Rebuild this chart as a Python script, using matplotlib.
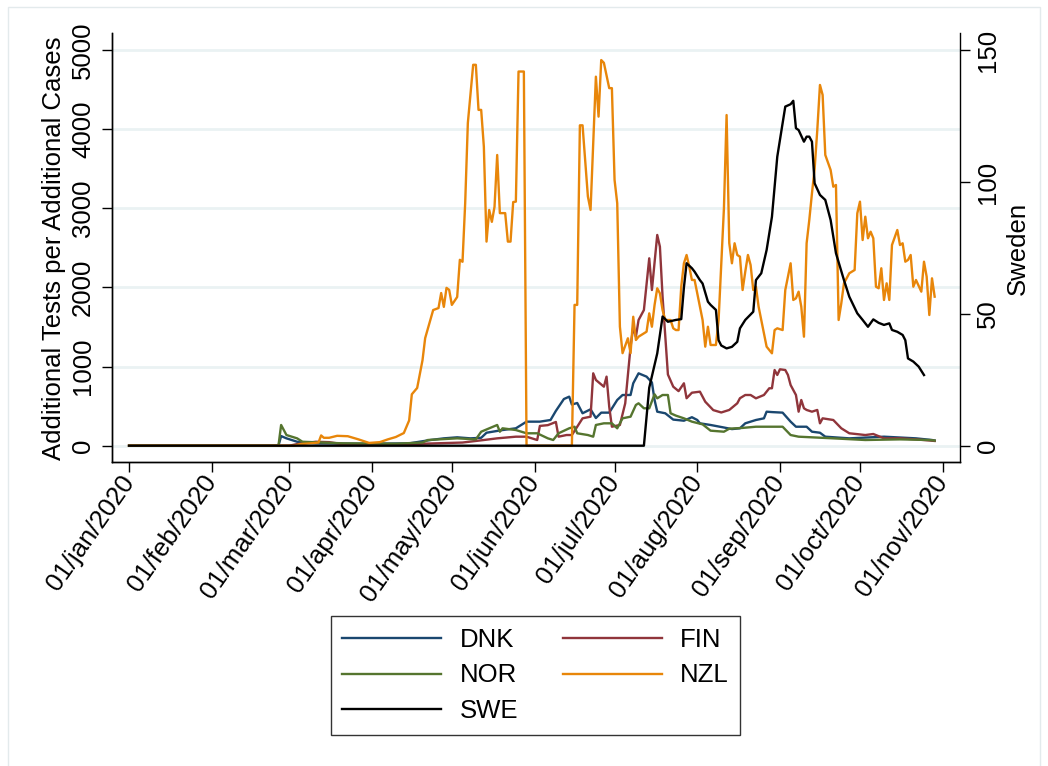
import numpy as np
import matplotlib
matplotlib.use("Agg")
import matplotlib.pyplot as plt
import matplotlib.dates as mdates
from matplotlib.lines import Line2D
from matplotlib.patches import Rectangle

plt.rcParams['font.family'] = ['Liberation Sans', 'DejaVu Sans']

# ---- data: days since 01/jan/2020 and values ----
dnk_days = [0, 56, 57, 59, 63, 70, 90, 105, 113, 118, 123, 128, 132, 134, 140, 145, 149, 154, 158, 160,
            163, 165, 166, 168, 170, 173, 175, 177, 180, 183, 185, 188, 189, 191, 194, 196, 197, 198, 201, 204,
            208, 211, 213, 214, 218, 223, 226, 229, 231, 235, 238, 239, 241, 245, 248, 250, 254, 256, 259, 261,
            270, 283, 295, 301, 302]
dnk_vals = [0, 0, 122, 93, 50, 30, 25, 30, 72, 93, 106, 93, 100, 164, 198, 220, 304, 304, 325, 440,
            590, 620, 520, 540, 410, 460, 350, 418, 418, 578, 641, 641, 789, 915, 873, 800, 578, 430, 410, 330,
            316, 360, 325, 283, 262, 230, 210, 220, 283, 325, 346, 430, 425, 418, 304, 240, 240, 177, 164, 114,
            93, 114, 93, 72, 65]

fin_days = [0, 60, 63, 70, 75, 80, 100, 110, 125, 133, 138, 145, 149, 153, 154, 157, 160, 161, 164, 166,
            168, 170, 173, 174, 175, 178, 179, 180, 181, 184, 186, 188, 189, 190, 191, 193, 195, 196, 198, 199,
            200, 202, 204, 206, 208, 209, 211, 214, 216, 219, 222, 225, 228, 229, 231, 233, 235, 238, 240, 241,
            242, 243, 244, 246, 247, 248, 250, 251, 252, 253, 254, 256, 258, 259, 260, 264, 267, 270, 276, 279,
            283, 289, 295, 301, 302]
fin_vals = [0, 0, 20, 50, 45, 20, 15, 25, 40, 72, 93, 114, 114, 72, 250, 260, 300, 114, 135, 135,
            240, 346, 367, 915, 831, 746, 873, 493, 240, 262, 536, 1252, 1500, 1378, 1589, 1715, 2369, 1968, 2664, 2516,
            1884, 900, 746, 690, 789, 600, 670, 683, 556, 450, 420, 452, 536, 600, 641, 641, 599, 641, 726, 726,
            957, 894, 966, 957, 894, 767, 641, 430, 578, 473, 452, 430, 452, 283, 346, 325, 220, 157, 135, 148,
            93, 93, 80, 63, 60]

nor_days = [0, 56, 57, 59, 63, 65, 80, 100, 110, 112, 123, 130, 132, 138, 139, 140, 145, 149, 153, 157,
            159, 161, 165, 167, 168, 172, 174, 175, 178, 181, 183, 185, 188, 190, 191, 193, 195, 197, 198, 200,
            202, 203, 205, 208, 211, 215, 218, 223, 225, 230, 235, 241, 245, 248, 251, 264, 276, 289, 300, 302]
nor_vals = [0, 0, 262, 135, 93, 50, 30, 25, 40, 72, 93, 80, 177, 262, 177, 220, 198, 157, 157, 93,
            72, 157, 220, 240, 157, 135, 114, 262, 283, 283, 220, 346, 367, 515, 536, 473, 473, 650, 599, 641,
            641, 410, 380, 346, 304, 270, 190, 177, 215, 225, 240, 240, 240, 135, 114, 93, 72, 80, 72, 65]

nzl_days = [0, 62, 64, 68, 71, 72, 73, 75, 78, 82,
            86, 90, 94, 97, 100, 103, 105, 106, 108, 110,
            111, 114, 116, 117, 118, 119, 120, 121, 123, 124,
            125, 126, 127, 129, 130, 131, 132, 133, 134, 135,
            136, 137, 138, 139, 141, 142, 143, 144, 145, 146,
            148, 149, 166, 167, 168, 169, 170, 172, 173, 175,
            176, 177, 178, 180, 181, 182, 183, 184, 185, 187,
            188, 189, 190, 191, 193, 194, 195, 196, 197, 198,
            199, 200, 201, 203, 204, 205, 206, 207, 208, 209,
            210, 211, 212, 213, 214, 215, 216, 217, 218, 220,
            221, 222, 223, 224, 225, 226, 227, 228, 229, 230,
            231, 232, 233, 234, 235, 236, 237, 239, 241, 242,
            243, 245, 246, 247, 248, 249, 250, 251, 252, 253,
            254, 255, 256, 257, 258, 259, 260, 261, 263, 264,
            265, 266, 267, 268, 270, 272, 273, 274, 275, 276,
            277, 278, 279, 280, 281, 282, 283, 284, 285, 286,
            288, 289, 290, 291, 292, 293, 294, 295, 297, 298,
            299, 300, 301, 302]
nzl_vals = [0, 0, 20, 30, 40, 130, 100, 100, 125, 120,
            80, 35, 45, 80, 110, 160, 320, 650, 730, 1080,
            1360, 1715, 1740, 1930, 1755, 1995, 1970, 1780, 1880, 2350,
            2325, 3065, 4080, 4815, 4815, 4245, 4245, 3780, 2580, 2980,
            2830, 3020, 3675, 2940, 2940, 2580, 2580, 3080, 3085, 4730,
            4730, 0, 0, 1780, 1780, 4050, 4050, 3150, 2980, 4665,
            4160, 4875, 4840, 4520, 4520, 3360, 3065, 1505, 1170, 1358,
            1170, 1630, 1336, 1378, 1420, 1441, 1673, 1504, 1779, 1990,
            1926, 1715, 1589, 1589, 1484, 1462, 1462, 2010, 2306, 2411,
            2263, 2095, 2095, 1926, 1757, 1589, 1252, 1504, 1273, 1273,
            1589, 2300, 3000, 4180, 2562, 2306, 2559, 2411, 2390, 1968,
            2200, 2411, 2284, 1968, 2010, 1757, 1589, 1252, 1168, 1462,
            1484, 1462, 1968, 2137, 2306, 1842, 1863, 1947, 1757, 1378,
            2559, 2853, 3190, 3500, 3991, 4560, 4434, 3675, 3485, 3274,
            3296, 1589, 1800, 2053, 2180, 2221, 2938, 3085, 2600, 2895,
            2622, 2705, 2622, 2010, 1990, 2243, 1842, 2053, 1842, 2537,
            2727, 2537, 2559, 2326, 2348, 2411, 2010, 2095, 1947, 2326,
            2137, 1652, 2116, 1884]

swe_days = [0, 193, 195, 198, 200, 202, 205, 207, 208, 209,
            211, 212, 214, 215, 217, 218, 220, 221, 222, 224,
            226, 228, 229, 231, 234, 235, 237, 239, 241, 243,
            245, 246, 248, 249, 250, 251, 253, 254, 255, 256,
            257, 259, 261, 263, 264, 265, 268, 270, 273, 275,
            277, 279, 281, 283, 285, 286, 288, 290, 291, 292,
            294, 296, 298]
swe_vals = [0, 0, 22, 35, 49, 47, 47.7, 48, 60, 69.2,
            67.3, 66, 62.8, 61.5, 54.6, 53.4, 51.5, 40, 38, 36.9,
            37.5, 39.4, 44.5, 47.7, 50.8, 62.8, 65.4, 74.2, 86.8, 109.6,
            122.3, 128.6, 129.5, 130.8, 120.4, 119.7, 115.3, 117.2, 117.2, 115.3,
            99.5, 95.1, 93.2, 85.6, 79.3, 73, 62.8, 56.5, 50.2, 47.7,
            45.1, 47.9, 46.6, 45.8, 46.4, 43.9, 43.2, 42, 40, 33.1,
            31.9, 30, 26.8]

tick_dates = ['2020-01-01', '2020-02-01', '2020-03-01', '2020-04-01', '2020-05-01', '2020-06-01',
              '2020-07-01', '2020-08-01', '2020-09-01', '2020-10-01', '2020-11-01']
tick_labels = ['01/jan/2020', '01/feb/2020', '01/mar/2020', '01/apr/2020', '01/may/2020', '01/jun/2020',
               '01/jul/2020', '01/aug/2020', '01/sep/2020', '01/oct/2020', '01/nov/2020']
left_ticks = [0, 1000, 2000, 3000, 4000, 5000]
right_ticks = [0, 50, 100, 150]

# ---- drawing ----
W, H = 1048, 766
FS = 18.5
base = np.datetime64('2020-01-01')


def to_dates(days):
    return base + np.array(days, dtype='timedelta64[D]')


fig = plt.figure(figsize=(W / 100, H / 100), dpi=100)
ax = fig.add_axes([112 / W, 1 - 462 / H, (960 - 112) / W, (462 - 33) / H])
ax2 = ax.twinx()

colors = {'DNK': '#1a476f', 'FIN': '#90353b', 'NOR': '#55752f', 'NZL': '#e8860a', 'SWE': '#000000'}
lw = 1.7
ax.plot(to_dates(dnk_days), dnk_vals, color=colors['DNK'], lw=lw)
ax.plot(to_dates(fin_days), fin_vals, color=colors['FIN'], lw=lw)
ax.plot(to_dates(nor_days), nor_vals, color=colors['NOR'], lw=lw)
ax.plot(to_dates(nzl_days), nzl_vals, color=colors['NZL'], lw=lw)
ax2.plot(to_dates(swe_days), swe_vals, color=colors['SWE'], lw=lw)

x0 = mdates.date2num(base)
ax.set_xlim(x0 - 6.4, x0 + 311.5)
ax.set_ylim(-206, 5217)
ax2.set_ylim(-206 * 150 / 5000 * 1.0, 5217 * 150 / 5000 * 1.0)

ax.set_xticks([mdates.date2num(np.datetime64(d)) for d in tick_dates])
ax.set_xticklabels(tick_labels, rotation=55, ha='right', rotation_mode='anchor', va='center', fontsize=FS)
ax.set_yticks(left_ticks)
ax.set_yticklabels([str(t) for t in left_ticks], rotation=90, va='center', fontsize=FS)
ax2.set_yticks(right_ticks)
ax2.set_yticklabels([str(t) for t in right_ticks], rotation=90, va='center', fontsize=FS)

ax.tick_params(axis='x', length=7.2, width=1, pad=4)
ax.tick_params(axis='y', length=7.2, width=1, pad=5)
ax2.tick_params(axis='y', length=7.2, width=1, pad=4)

ax.yaxis.grid(True, color='#eaf2f3', lw=2)
ax.set_axisbelow(True)

for a in (ax, ax2):
    a.spines['top'].set_visible(False)
    for s in ('left', 'right', 'bottom'):
        a.spines[s].set_linewidth(1)
ax.spines['right'].set_visible(False)

fig.text(54 / W, 1 - 248 / H, 'Additional Tests per Additional Cases', rotation=90,
         ha='center', va='center', fontsize=FS)
fig.text(1018 / W, 1 - 248 / H, 'Sweden', rotation=90, ha='center', va='center', fontsize=FS)

handles = [Line2D([], [], color=colors[k], lw=lw) for k in ('DNK', 'NOR', 'SWE', 'FIN', 'NZL')]
labels = ['DNK', 'NOR', 'SWE', 'FIN', 'NZL']
leg = fig.legend(handles, labels, ncol=2, loc='center',
                 bbox_to_anchor=((332 + 739) / 2 / W, 1 - (614 + 737) / 2 / H),
                 fontsize=FS, frameon=True, fancybox=False, edgecolor='black',
                 handlelength=3.85, handletextpad=0.7, columnspacing=1.75,
                 labelspacing=0.45, borderpad=0.45)
leg.get_frame().set_linewidth(1)

fig.patches.append(Rectangle((8 / W, -0.01), (1040 - 8) / W, 1.01 - 7 / H, transform=fig.transFigure,
                             fill=False, edgecolor='#e3eaec', lw=1))

fig.savefig('out.png', dpi=100)
